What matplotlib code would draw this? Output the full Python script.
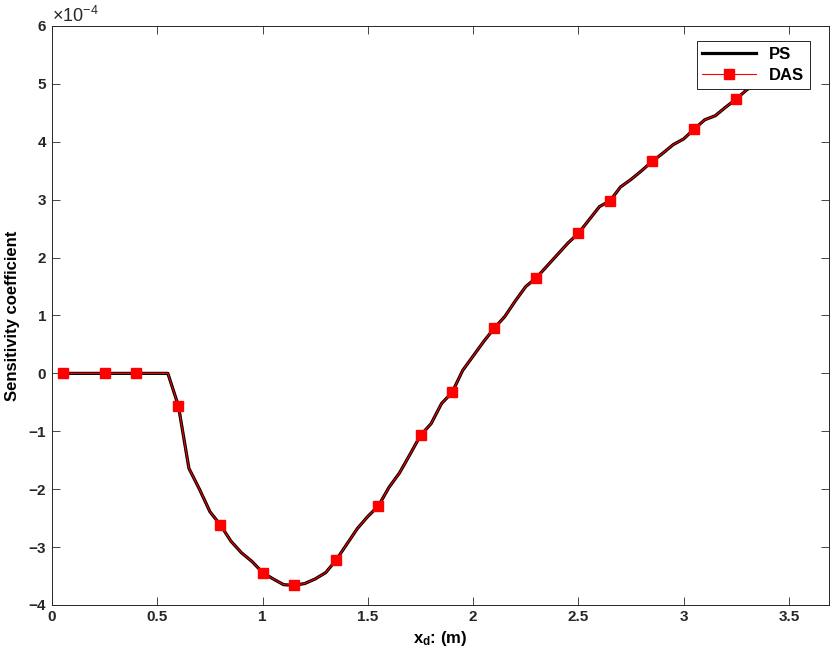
import numpy as np
import matplotlib
matplotlib.use('Agg')
import matplotlib.pyplot as plt
from matplotlib.ticker import ScalarFormatter, FormatStrFormatter

plt.rcParams['font.family'] = ['Liberation Sans', 'DejaVu Sans']
plt.rcParams['mathtext.fontset'] = 'custom'
plt.rcParams['mathtext.rm'] = 'Liberation Sans'
plt.rcParams['mathtext.bf'] = 'Liberation Sans:bold'
plt.rcParams['axes.unicode_minus'] = False

# position along x (m), step 0.05
xd = np.round(np.arange(1, 71) * 0.05, 2)

# sensitivity coefficient, in units of 1e-4
sens = [0, 0, 0, 0, 0, 0, 0, 0, 0, 0,
        0, -0.56, -1.64, -2.0, -2.39, -2.62, -2.9, -3.1, -3.25, -3.44,
        -3.55, -3.65, -3.66, -3.63, -3.55, -3.44, -3.22, -2.95, -2.68, -2.47,
        -2.29, -1.97, -1.72, -1.4, -1.07, -0.87, -0.52, -0.33, 0.05, 0.3,
        0.55, 0.78, 0.98, 1.25, 1.5, 1.65, 1.85, 2.05, 2.25, 2.42,
        2.65, 2.88, 2.98, 3.22, 3.35, 3.5, 3.66, 3.8, 3.95, 4.05,
        4.22, 4.38, 4.45, 4.6, 4.74, 4.9, 5.0, 5.1, 5.2, 5.3]
sens = np.array(sens) * 1e-4

# which samples carry a DAS marker
das_marks = [0, 4, 7, 11, 15, 19, 22, 26, 30, 34, 37, 41, 45, 49, 52, 56, 60, 64, 67]

fig = plt.figure(figsize=(8.3, 6.64), dpi=100)
ax = fig.add_axes([0.0627, 0.0889, 0.9361, 0.872])

ax.plot(xd, sens, color='k', linewidth=2.3, label='PS')
ax.plot(xd, sens, color='r', linewidth=0.8, marker='s', markersize=7,
        markevery=das_marks, label='DAS')

ax.set_xlim(0, 3.69)
ax.set_ylim(-4e-4, 6e-4)
ax.set_xticks(np.arange(0, 3.6, 0.5))
ax.set_yticks(np.arange(-4e-4, 6.1e-4, 1e-4))
ax.xaxis.set_major_formatter(FormatStrFormatter('%g'))

fmt = ScalarFormatter(useMathText=True)
fmt.set_powerlimits((-3, 3))
ax.yaxis.set_major_formatter(fmt)
ax.yaxis.get_offset_text().set_fontsize(13)

ax.tick_params(direction='in', top=True, right=True, length=6, width=0.6,
               labelsize=11, colors='#262626')
for lab in ax.get_xticklabels() + ax.get_yticklabels():
    lab.set_fontweight('bold')
for s in ax.spines.values():
    s.set_linewidth(0.7)
    s.set_color('#262626')

ax.set_xlabel(r'$\mathbf{x_d}$: (m)', fontsize=12, fontweight='bold', labelpad=4)
ax.set_ylabel('Sensitivity coefficient', fontsize=12, fontweight='bold', labelpad=6)

leg = ax.legend(loc='upper right', bbox_to_anchor=(0.9755, 0.974), borderaxespad=0,
                fancybox=False, edgecolor='#262626', prop={'weight': 'bold', 'size': 12},
                handlelength=3.2, handletextpad=0.8, borderpad=0.35,
                labelspacing=0.35, framealpha=1)
leg.get_frame().set_linewidth(0.7)

fig.savefig('out.png', dpi=100)
